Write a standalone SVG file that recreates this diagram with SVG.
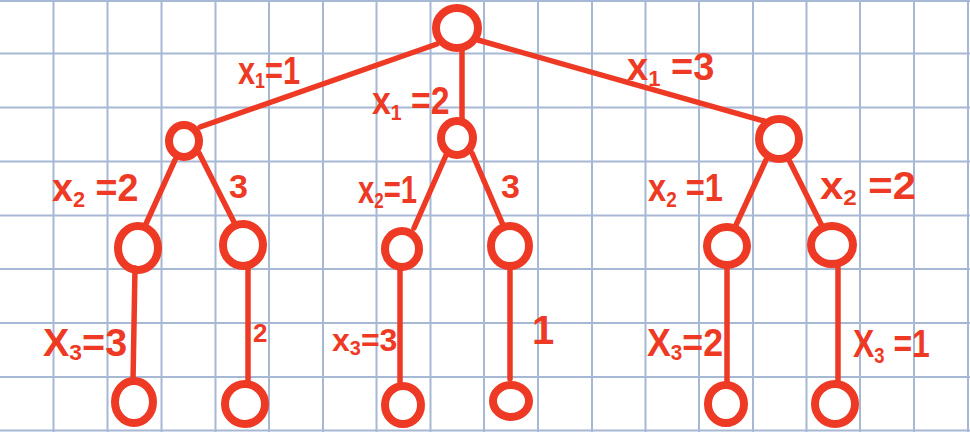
<svg xmlns="http://www.w3.org/2000/svg" width="970" height="432" viewBox="0 0 970 432">
<style>
.grid line{stroke:#a7b8d5;stroke-width:2}
.node{fill:none;stroke:#ee3a24;stroke-width:8}
.edge{stroke:#ee3a24;stroke-width:5.5;stroke-linecap:round;fill:none}
.lbl{fill:#ee3a24;font-family:"Liberation Sans",Arial,sans-serif;font-weight:bold;font-size:38px}
.sub{font-size:22px}
</style>
<rect width="970" height="432" fill="#ffffff"/>
<g class="grid">
<line x1="0" y1="1" x2="970" y2="1"/>
<line x1="0" y1="53.5" x2="970" y2="53.5"/>
<line x1="0" y1="107.5" x2="970" y2="107.5"/>
<line x1="0" y1="161.5" x2="970" y2="161.5"/>
<line x1="0" y1="215.5" x2="970" y2="215.5"/>
<line x1="0" y1="269" x2="970" y2="269"/>
<line x1="0" y1="323" x2="970" y2="323"/>
<line x1="0" y1="377" x2="970" y2="377"/>
<line x1="0" y1="430.5" x2="970" y2="430.5"/>
<line x1="53.5" y1="0" x2="53.5" y2="432"/>
<line x1="107.5" y1="0" x2="107.5" y2="432"/>
<line x1="161.5" y1="0" x2="161.5" y2="432"/>
<line x1="215.5" y1="0" x2="215.5" y2="432"/>
<line x1="269" y1="0" x2="269" y2="432"/>
<line x1="323" y1="0" x2="323" y2="432"/>
<line x1="376.5" y1="0" x2="376.5" y2="432"/>
<line x1="430.5" y1="0" x2="430.5" y2="432"/>
<line x1="484" y1="0" x2="484" y2="432"/>
<line x1="538" y1="0" x2="538" y2="432"/>
<line x1="592" y1="0" x2="592" y2="432"/>
<line x1="645.5" y1="0" x2="645.5" y2="432"/>
<line x1="699" y1="0" x2="699" y2="432"/>
<line x1="753" y1="0" x2="753" y2="432"/>
<line x1="806.5" y1="0" x2="806.5" y2="432"/>
<line x1="860" y1="0" x2="860" y2="432"/>
<line x1="914" y1="0" x2="914" y2="432"/>
<line x1="968" y1="0" x2="968" y2="432"/>
</g>
<g id="connectors">
<line class="edge" x1="437" y1="44" x2="200" y2="127"/>
<line class="edge" x1="462" y1="50" x2="462" y2="120"/>
<line class="edge" x1="478" y1="40" x2="764" y2="121"/>
<line class="edge" x1="175" y1="160" x2="145" y2="226"/>
<line class="edge" x1="199" y1="153" x2="235" y2="224"/>
<line class="edge" x1="447" y1="153" x2="414" y2="228"/>
<line class="edge" x1="472" y1="153" x2="503" y2="225"/>
<line class="edge" x1="766" y1="160" x2="736" y2="225"/>
<line class="edge" x1="788" y1="158" x2="822" y2="226"/>
<line class="edge" x1="135" y1="268" x2="133" y2="381"/>
<line class="edge" x1="248" y1="268" x2="248" y2="382"/>
<line class="edge" x1="400" y1="270" x2="400" y2="385"/>
<line class="edge" x1="510" y1="268" x2="510" y2="379"/>
<line class="edge" x1="727" y1="268" x2="727" y2="384"/>
<line class="edge" x1="838" y1="265" x2="838" y2="380"/>
</g>
<g id="root"><ellipse class="node" cx="457" cy="28" rx="21" ry="20"/></g>
<g id="n1a"><ellipse class="node" cx="184" cy="141" rx="15" ry="16"/></g>
<g id="n1b"><ellipse class="node" cx="457" cy="138" rx="16" ry="17"/></g>
<g id="n1c"><ellipse class="node" cx="779" cy="139" rx="20" ry="20"/></g>
<g id="n2a"><ellipse class="node" cx="138" cy="248" rx="20" ry="22"/></g>
<g id="n2b"><ellipse class="node" cx="243" cy="245" rx="20" ry="21"/></g>
<g id="n2c"><ellipse class="node" cx="402" cy="249" rx="17" ry="18"/></g>
<g id="n2d"><ellipse class="node" cx="510" cy="246" rx="19" ry="20"/></g>
<g id="n2e"><ellipse class="node" cx="727" cy="246" rx="20" ry="19"/></g>
<g id="n2f"><ellipse class="node" cx="832" cy="245" rx="21" ry="19"/></g>
<g id="n3a"><ellipse class="node" cx="134" cy="402" rx="19" ry="21"/></g>
<g id="n3b"><ellipse class="node" cx="245" cy="404" rx="20" ry="20"/></g>
<g id="n3c"><ellipse class="node" cx="403" cy="405" rx="18" ry="19"/></g>
<g id="n3d"><ellipse class="node" cx="511" cy="401" rx="18" ry="16"/></g>
<g id="n3e"><ellipse class="node" cx="726" cy="404" rx="18" ry="19"/></g>
<g id="n3f"><ellipse class="node" cx="835" cy="404" rx="20" ry="20"/></g>
<g id="labels">
<text class="lbl" transform="translate(238,84) scale(0.81,1)">x<tspan class="sub" dy="4">1</tspan><tspan dy="-4">=1</tspan></text>
<text class="lbl" transform="translate(372,114) scale(0.89,1)">x<tspan class="sub" dy="6">1</tspan><tspan dy="-6"> =2</tspan></text>
<text class="lbl" transform="translate(627,80)">x<tspan class="sub" dy="6">1</tspan><tspan dy="-6"> =3</tspan></text>
<text class="lbl" transform="translate(52,201) scale(0.99,1)">x<tspan class="sub" dy="6">2</tspan><tspan dy="-6"> =2</tspan></text>
<text class="lbl" x="229" y="198" style="font-size:34px">3</text>
<text class="lbl" transform="translate(358,203) scale(0.77,1)">x<tspan class="sub" dy="5">2</tspan><tspan dy="-5">=1</tspan></text>
<text class="lbl" x="501" y="198" style="font-size:34px">3</text>
<text class="lbl" transform="translate(648,201) scale(0.86,1)">x<tspan class="sub" dy="6">2</tspan><tspan dy="-6"> =1</tspan></text>
<text class="lbl" transform="translate(820,199) scale(1.1,1)">x<tspan class="sub" dy="6">2</tspan><tspan dy="-6"> =2</tspan></text>
<text class="lbl" transform="translate(43,356) scale(1.04,1)">X<tspan class="sub" dy="4">3</tspan><tspan dy="-4">=3</tspan></text>
<text class="lbl" x="253" y="342" style="font-size:26px">2</text>
<text class="lbl" x="332" y="351" style="font-size:32px">x<tspan style="font-size:20px" dy="4">3</tspan><tspan dy="-4">=3</tspan></text>
<text class="lbl" x="532" y="344" style="font-size:40px">1</text>
<text class="lbl" transform="translate(647,356) scale(0.94,1)">X<tspan class="sub" dy="4">3</tspan><tspan dy="-4">=2</tspan></text>
<text class="lbl" transform="translate(853,357) scale(0.84,1)">X<tspan class="sub" dy="6">3</tspan><tspan dy="-6"> =1</tspan></text>
</g>
</svg>
